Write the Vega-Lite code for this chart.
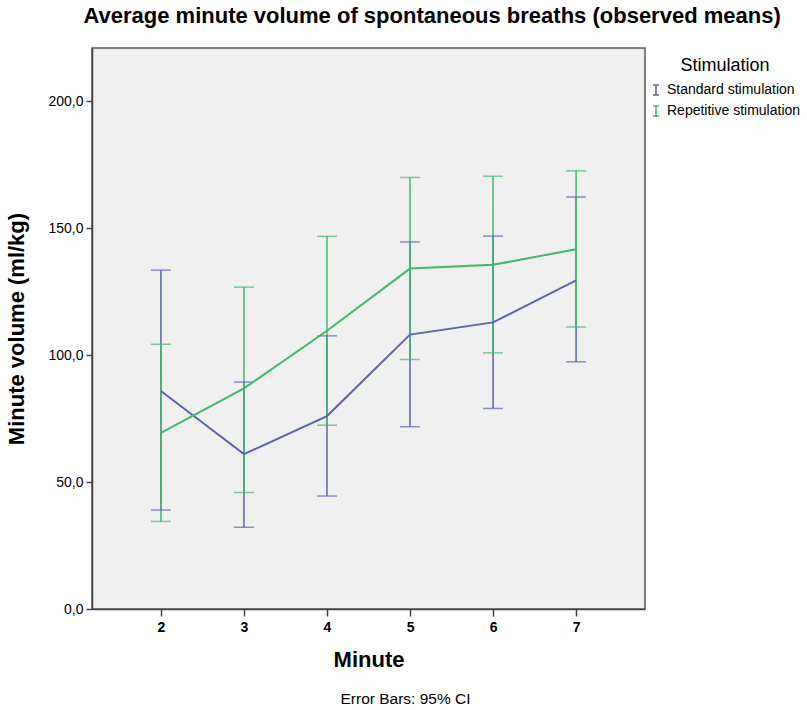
{
  "$schema": "https://vega.github.io/schema/vega-lite/v6.json",
  "background": "white",
  "padding": 5,
  "title": {
    "text": "Average minute volume of spontaneous breaths (observed means)",
    "font": "Liberation Sans",
    "fontSize": 22,
    "fontWeight": "bold",
    "color": "black",
    "anchor": "middle",
    "offset": 19,
    "dx": 29
  },
  "config": {
    "font": "Liberation Sans",
    "view": {"fill": "#f0f0f0", "stroke": "#555555", "strokeWidth": 1.5},
    "axis": {
      "labelFont": "Liberation Sans",
      "titleFont": "Liberation Sans",
      "labelColor": "black",
      "titleColor": "black",
      "domainColor": "#444444",
      "tickColor": "#444444",
      "domainWidth": 1.5,
      "tickWidth": 1.5,
      "grid": false
    }
  },
  "vconcat": [
    {
      "width": 553,
      "height": 561,
      "title": {
        "text": "Error Bars: 95% CI",
        "orient": "bottom",
        "font": "Liberation Sans",
        "fontSize": 15.5,
        "fontWeight": "normal",
        "color": "black",
        "anchor": "middle",
        "offset": 22,
        "dx": 37
      },
      "data": {
        "values": [
          {"minute": 2, "group": "Standard stimulation", "mean": 85.9, "lo": 39.0, "hi": 133.5},
          {"minute": 3, "group": "Standard stimulation", "mean": 61.0, "lo": 32.2, "hi": 89.4},
          {"minute": 4, "group": "Standard stimulation", "mean": 76.0, "lo": 44.5, "hi": 107.6},
          {"minute": 5, "group": "Standard stimulation", "mean": 108.1, "lo": 71.8, "hi": 144.6},
          {"minute": 6, "group": "Standard stimulation", "mean": 112.9, "lo": 79.0, "hi": 146.9},
          {"minute": 7, "group": "Standard stimulation", "mean": 129.5, "lo": 97.4, "hi": 162.3},
          {"minute": 2, "group": "Repetitive stimulation", "mean": 69.4, "lo": 34.5, "hi": 104.3},
          {"minute": 3, "group": "Repetitive stimulation", "mean": 86.9, "lo": 45.9, "hi": 126.8},
          {"minute": 4, "group": "Repetitive stimulation", "mean": 109.6, "lo": 72.4, "hi": 146.8},
          {"minute": 5, "group": "Repetitive stimulation", "mean": 134.1, "lo": 98.3, "hi": 170.0},
          {"minute": 6, "group": "Repetitive stimulation", "mean": 135.6, "lo": 100.9, "hi": 170.5},
          {"minute": 7, "group": "Repetitive stimulation", "mean": 141.7, "lo": 111.1, "hi": 172.6}
        ]
      },
      "encoding": {
        "x": {
          "field": "minute",
          "type": "quantitative",
          "scale": {"domain": [1.17, 7.83], "nice": false, "zero": false},
          "axis": {
            "values": [2, 3, 4, 5, 6, 7],
            "format": "d",
            "title": "Minute",
            "titleFontSize": 22,
            "titleFontWeight": "bold",
            "titlePadding": 15,
            "labelFontSize": 14,
            "labelFontWeight": "bold",
            "labelPadding": 4,
            "tickSize": 7
          }
        },
        "color": {
          "field": "group",
          "type": "nominal",
          "scale": {
            "domain": ["Standard stimulation", "Repetitive stimulation"],
            "range": ["#5c64b0", "#3fba6a"]
          },
          "legend": {
            "title": "Stimulation",
            "orient": "none",
            "legendX": 557,
            "legendY": 9,
            "titleFont": "Liberation Sans",
            "titleFontSize": 18,
            "titleFontWeight": "normal",
            "titleColor": "black",
            "titleAnchor": "middle",
            "titlePadding": 8,
            "labelFont": "Liberation Sans",
            "labelFontSize": 14,
            "labelColor": "black",
            "labelOffset": 4,
            "rowPadding": 5,
            "symbolType": "M-0.6,-1H0.6M0,-1V1M-0.6,1H0.6",
            "symbolSize": 100,
            "symbolStrokeWidth": 1.5,
            "symbolFillColor": "transparent",
            "encode": {
              "symbols": {
                "update": {
                  "stroke": {"scale": "color", "field": "value"},
                  "strokeWidth": {"value": 1.5},
                  "fill": {"value": "transparent"}
                }
              }
            }
          }
        }
      },
      "layer": [
        {
          "mark": {"type": "rule", "strokeWidth": 1.5},
          "encoding": {
            "y": {
              "field": "lo",
              "type": "quantitative",
              "scale": {"domain": [0, 221], "nice": false},
              "axis": {
                "values": [0, 50, 100, 150, 200],
                "labelExpr": "replace(format(datum.value, '.1f'), '.', ',')",
                "title": "Minute volume (ml/kg)",
                "titleFontSize": 22,
                "titleFontWeight": "bold",
                "titlePadding": 19,
                "labelFontSize": 14,
                "labelPadding": 3,
                "tickSize": 6
              }
            },
            "y2": {"field": "hi"}
          }
        },
        {
          "mark": {"type": "tick", "orient": "horizontal", "size": 20, "thickness": 1.5},
          "encoding": {"y": {"field": "lo", "type": "quantitative"}}
        },
        {
          "mark": {"type": "tick", "orient": "horizontal", "size": 20, "thickness": 1.5},
          "encoding": {"y": {"field": "hi", "type": "quantitative"}}
        },
        {
          "mark": {"type": "line", "strokeWidth": 2},
          "encoding": {"y": {"field": "mean", "type": "quantitative"}}
        }
      ]
    }
  ]
}
